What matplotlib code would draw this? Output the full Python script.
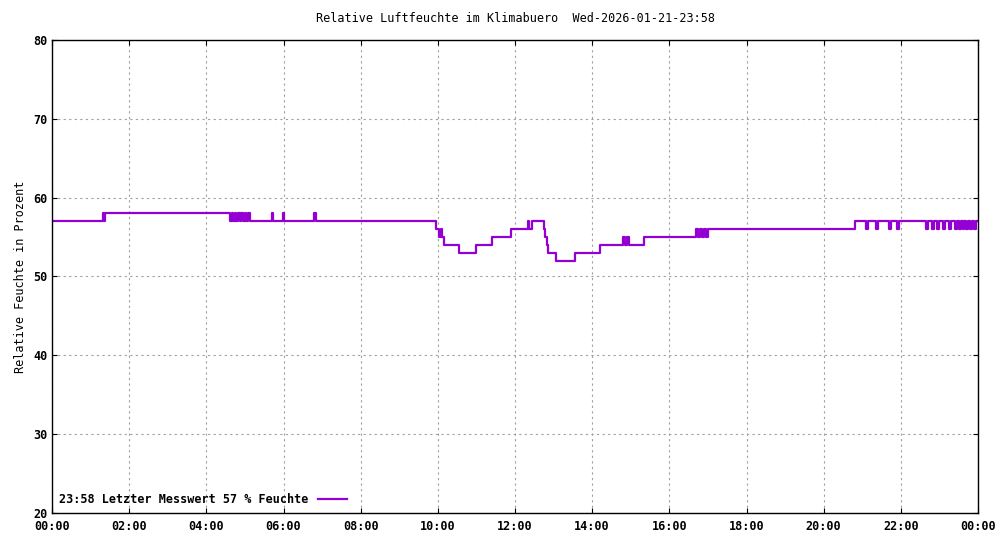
import matplotlib
matplotlib.use("Agg")
import matplotlib.pyplot as plt
from matplotlib.ticker import FuncFormatter, MultipleLocator

# breakpoints (hours) and step values (relative humidity %)
hours = [0.0, 1.33, 1.36, 1.38, 4.62, 4.66, 4.70, 4.74, 4.78, 4.82, 4.86, 4.90, 4.94, 5.0, 5.04, 5.08,
         5.12, 5.70, 5.74, 5.98, 6.02, 6.78, 6.84,
         9.95, 10.02, 10.07, 10.12, 10.17, 10.25, 10.55, 11.0, 11.4, 11.9, 12.33, 12.36, 12.45, 12.75,
         12.78, 12.82, 12.85, 13.05, 13.55, 14.2, 14.8, 14.85, 14.9, 14.95, 15.35, 16.7, 16.75, 16.8, 16.85,
         16.9, 16.95, 17.0, 20.8, 21.1, 21.15, 21.35, 21.4, 21.7, 21.75, 21.9, 21.95, 22.0, 22.65,
         22.7, 22.8, 22.85, 22.95, 23.0, 23.1, 23.15, 23.25, 23.3, 23.4, 23.45, 23.5, 23.55, 23.6,
         23.65, 23.7, 23.75, 23.8, 23.85, 23.9, 23.95, 23.97]
values = [57, 58, 57, 58, 57, 58, 57, 58, 57, 58, 57, 58, 57, 58, 57, 58,
          57, 58, 57, 58, 57, 58, 57,
          56, 55, 56, 55, 54, 54, 53, 54, 55, 56, 57, 56, 57, 56,
          55, 54, 53, 52, 53, 54, 55, 54, 55, 54, 55, 56, 55, 56, 55,
          56, 55, 56, 57, 56, 57, 56, 57, 56, 57, 56, 57, 57, 56,
          57, 56, 57, 56, 57, 56, 57, 56, 57, 56, 57, 56, 57, 56,
          57, 56, 57, 56, 57, 56, 57, 57]
y_ticks = [20, 30, 40, 50, 60, 70, 80]

plt.rcParams['font.family'] = ['DejaVu Sans Mono']
plt.rcParams['font.weight'] = 'bold'
fig = plt.figure(figsize=(10, 5.4), dpi=100)
ax = fig.add_axes([0.052, 0.05, 0.926, 0.876])
ax.step(hours, values, where='post', color='#9400d3', lw=1.6,
        label='23:58 Letzter Messwert 57 % Feuchte')
ax.set_xlim(0, 24)
ax.set_ylim(20, 80)
ax.set_yticks(y_ticks)
ax.xaxis.set_major_locator(MultipleLocator(2))
ax.xaxis.set_major_formatter(FuncFormatter(lambda v, p: f"{int(v) % 24:02d}:00"))
ax.grid(True, color='#a0a0a0', linestyle=(0, (2, 3)), lw=0.8)
ax.tick_params(direction='in', labelsize=8.5, top=True, right=True)
ax.tick_params(axis='x', pad=5)
for s in ax.spines.values():
    s.set_linewidth(1)
ax.set_ylabel('Relative Feuchte in Prozent', fontsize=8.5)
ax.set_title('Relative Luftfeuchte im Klimabuero  Wed-2026-01-21-23:58', fontsize=8.5, pad=13)
ax.legend(loc='lower left', frameon=False, markerfirst=False, fontsize=8.5,
          handlelength=2.5, borderaxespad=0.2)
fig.savefig('out.png', dpi=100)
